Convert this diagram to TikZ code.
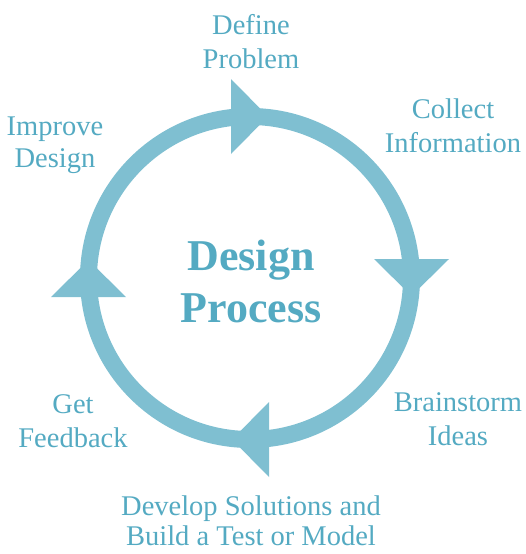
\documentclass[tikz,border=0pt]{standalone}
\usepackage{fontspec}
\setmainfont{Liberation Serif}
\usetikzlibrary{calc}
\definecolor{ringblue}{RGB}{127,191,209}
\definecolor{textblue}{RGB}{84,170,194}
\tikzset{
	steplabel/.style={anchor=base, align=center, inner sep=0pt, text=textblue,
		font=\fontsize{28.5}{34}\selectfont},
	titlelabel/.style={anchor=base, align=center, inner sep=0pt, text=textblue,
		font=\fontsize{44}{52}\selectfont\bfseries}
}

\begin{document}
\begin{tikzpicture}[x=1pt, y=-1pt]
			%%%%% START %%%%%
			\useasboundingbox (0, 0) rectangle (526, 554);
			
			\coordinate (c) at (250, 278);
			\draw[line width=17pt, color=ringblue] (c) circle[radius=161.5pt];
			
			% arrow heads, one per quarter, turning clockwise
			\foreach \a in {0, 90, 180, 270}
				\fill[ringblue, rotate around={-\a:(c)}] (231, 79) -- (268, 116.5) -- (231, 154) -- cycle;
			
			% base = baseline of the last line
			\node[titlelabel] (title) at (251, 322) {Design\\Process};
			
			\node[steplabel] (define) at (251, 68) {Define\\Problem};
			\node[steplabel] (collect) at (453, 152) {Collect\\Information};
			\node[steplabel] (brainstorm) at (458, 445) {Brainstorm\\Ideas};
			\node[steplabel, font=\fontsize{28.5}{30}\selectfont] (develop) at (251, 545) {Develop Solutions and\\Build a Test or Model};
			\node[steplabel] (feedback) at (73, 447) {Get\\Feedback};
			\node[steplabel, font=\fontsize{28.5}{32}\selectfont] (improve) at (55, 167) {Improve\\Design};
			
			%%%%% END %%%%%
\end{tikzpicture}
\end{document}
